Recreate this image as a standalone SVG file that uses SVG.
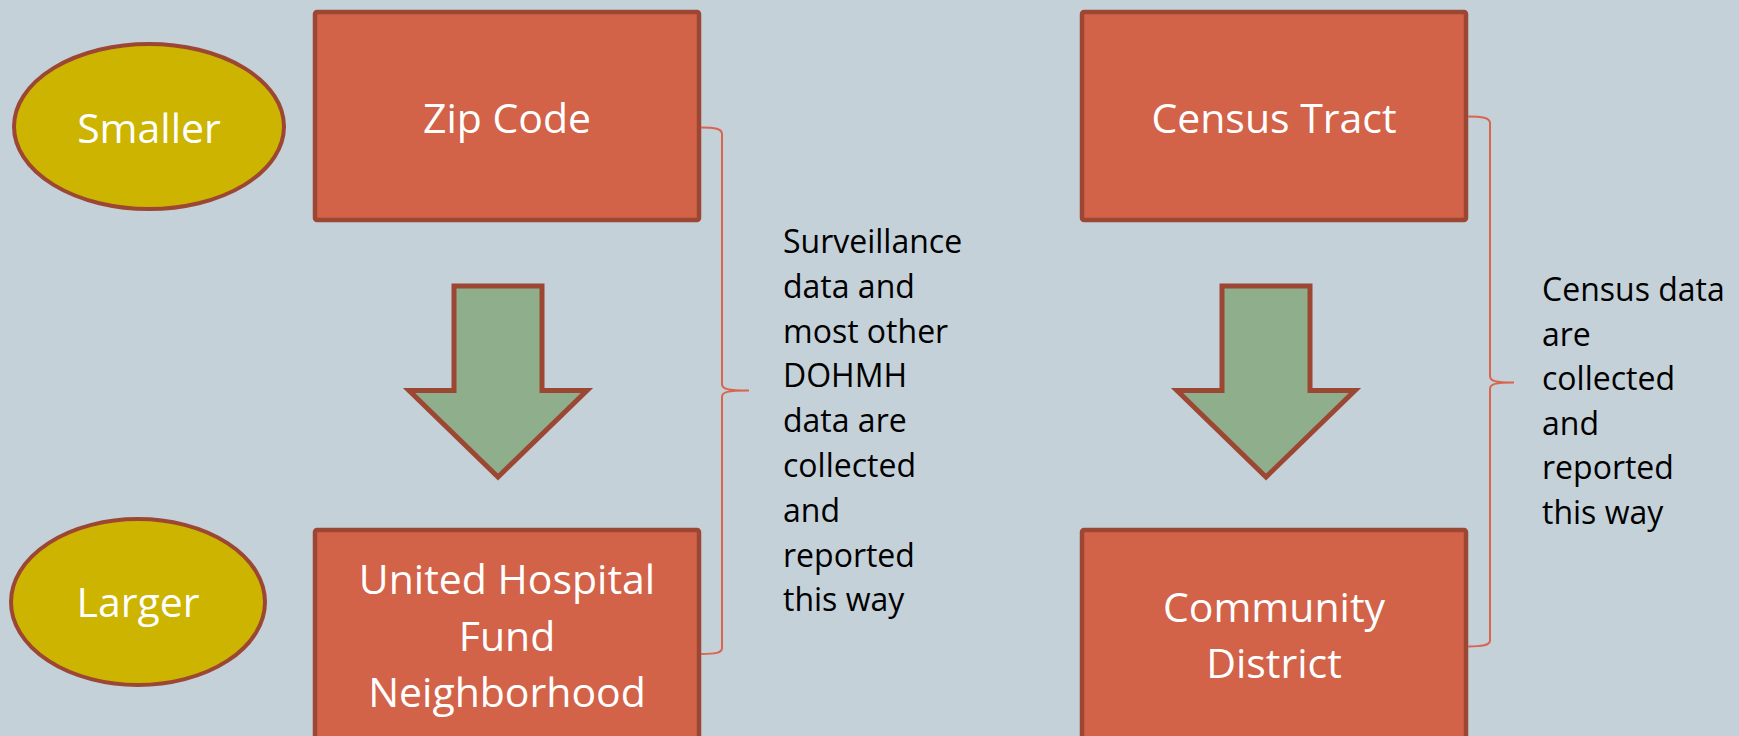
<svg xmlns="http://www.w3.org/2000/svg" width="1739" height="736" viewBox="0 0 1739 736">
<style>
.box{fill:#d26349;stroke:#9c4734;stroke-width:4.5}
.oval{fill:#ccb400;stroke:#9c4734;stroke-width:4}
.arrow{fill:#8fae8b;stroke:#9c4734;stroke-width:5;stroke-linejoin:miter}
.brace{fill:none;stroke:#d9654f;stroke-width:2}
.wt{font-family:"Open Sans","Liberation Sans",sans-serif;font-size:41px;fill:#ffffff;text-anchor:middle}
.bt{font-family:"Open Sans","Liberation Sans",sans-serif;font-size:32px;fill:#000000}
</style>
<rect x="0" y="0" width="1739" height="736" fill="#c5d1d8"/>
<g id="smaller">
<ellipse class="oval" cx="149" cy="126.5" rx="135" ry="82.5"/>
<text class="wt" x="149" y="143">Smaller</text>
</g>
<g id="larger">
<ellipse class="oval" cx="138" cy="602" rx="127" ry="83"/>
<text class="wt" x="138" y="617">Larger</text>
</g>
<g id="zip-code">
<rect class="box" x="315" y="12" width="384" height="208" rx="2"/>
<text class="wt" x="507" y="133">Zip Code</text>
</g>
<g id="uhf">
<rect class="box" x="315" y="530" width="384" height="240" rx="2"/>
<text class="wt" x="507" y="594">United Hospital</text>
<text class="wt" x="507" y="650.5">Fund</text>
<text class="wt" x="507" y="707">Neighborhood</text>
</g>
<g id="census-tract">
<rect class="box" x="1082" y="12" width="384" height="208" rx="2"/>
<text class="wt" x="1274" y="133">Census Tract</text>
</g>
<g id="community-district">
<rect class="box" x="1082" y="530" width="384" height="240" rx="2"/>
<text class="wt" x="1274" y="622">Community</text>
<text class="wt" x="1274" y="678">District</text>
</g>
<g id="arrow-left">
<path class="arrow" d="M454,286 H542 V390.5 H587 L498,477 L409,390.5 H454 Z"/>
</g>
<g id="arrow-right">
<path class="arrow" d="M1222,286 H1310 V390.5 H1355 L1266,477 L1177,390.5 H1222 Z"/>
</g>
<g id="connectors">
<path class="brace" d="M701,127.5 C715,127.5 722,128.5 722,134 V384 C722,389 727,390.5 749,390.5 C727,390.5 722,392 722,397 V648 C722,653 715,654 701,654"/>
<path class="brace" d="M1468,116.5 C1482,116.5 1490,117.5 1490,123 V376 C1490,381 1495,382.5 1514,382.5 C1495,382.5 1490,384 1490,389 V640.5 C1490,645.5 1482,646.5 1468,646.5"/>
</g>
<g id="note-left">
<text class="bt" x="783" y="253">Surveillance</text>
<text class="bt" x="783" y="297.8">data and</text>
<text class="bt" x="783" y="342.6">most other</text>
<text class="bt" x="783" y="387.4">DOHMH</text>
<text class="bt" x="783" y="432.2">data are</text>
<text class="bt" x="783" y="477">collected</text>
<text class="bt" x="783" y="521.8">and</text>
<text class="bt" x="783" y="566.6">reported</text>
<text class="bt" x="783" y="611.4">this way</text>
</g>
<g id="note-right">
<text class="bt" x="1542" y="301">Census data</text>
<text class="bt" x="1542" y="345.6">are</text>
<text class="bt" x="1542" y="390.2">collected</text>
<text class="bt" x="1542" y="434.8">and</text>
<text class="bt" x="1542" y="479.4">reported</text>
<text class="bt" x="1542" y="524">this way</text>
</g>
</svg>
